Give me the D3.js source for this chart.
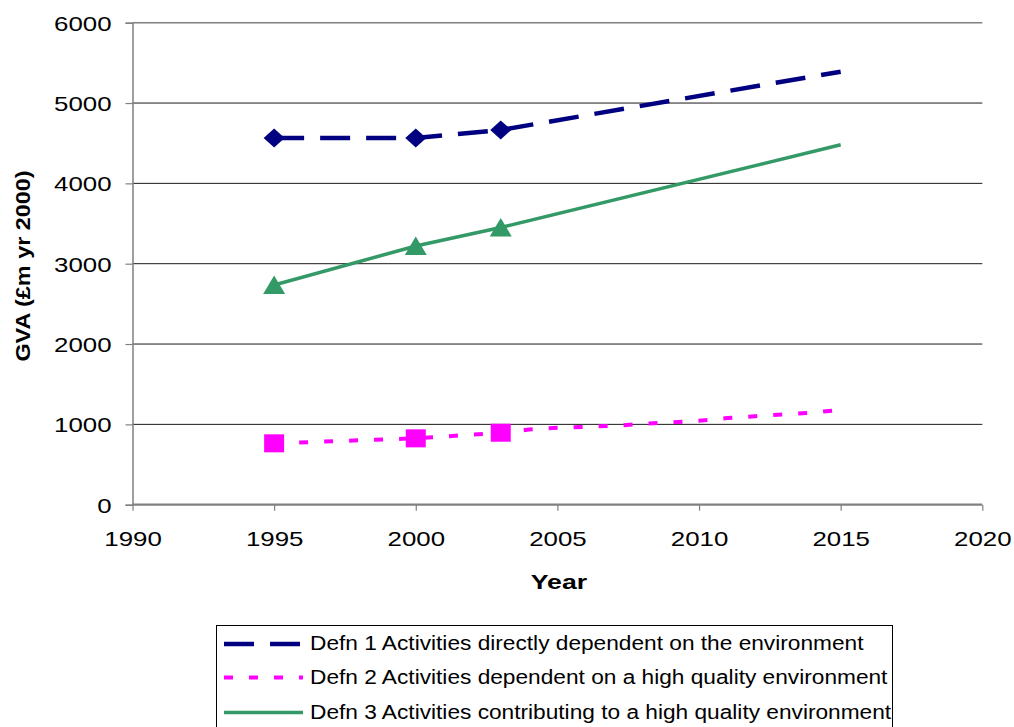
<!DOCTYPE html>
<html>
<head>
<meta charset="utf-8">
<script src="https://cdn.jsdelivr.net/npm/d3@7"></script>
<style>
  html, body { margin: 0; padding: 0; background: #fff; }
  svg { display: block; }
  text { font-family: "Liberation Sans", Arial, sans-serif; fill: #000; }
</style>
</head>
<body>
<svg id="chart" width="1014" height="727"></svg>
<script>
// GVA estimates (£m, year-2000 prices) for three definitions of environment-related activity
const observedYears = [1995, 2000, 2003];

const defn1Years = [1995, 2000, 2003, 2015];
const defn1Values = [4565, 4565, 4665, 5390];

const defn2Years = [1995, 2000, 2003, 2004, 2005, 2006, 2007, 2008, 2009, 2010, 2011, 2012, 2013, 2014, 2015];
const defn2Values = [764, 826, 896, 935, 958, 970, 982, 1005, 1025, 1046, 1078, 1102, 1124, 1146, 1180];

const defn3Years = [1995, 2000, 2003, 2015];
const defn3Values = [2735, 3220, 3450, 4480];

const xTicks = [1990, 1995, 2000, 2005, 2010, 2015, 2020];
const yTicks = [0, 1000, 2000, 3000, 4000, 5000, 6000];

const seriesNames = [
  "Defn 1 Activities directly dependent on the environment",
  "Defn 2 Activities dependent on a high quality environment",
  "Defn 3 Activities contributing to a high quality environment"
];

const svg = d3.select("#chart");
const x = d3.scaleLinear().domain([1990, 2020]).range([132.5, 982.3]);
const y = d3.scaleLinear().domain([0, 6000]).range([504.7, 22.7]);

// widen glyphs horizontally by a factor
function widen(sel, f) {
  sel.each(function () {
    const w = this.getComputedTextLength();
    this.setAttribute("textLength", w * f);
    this.setAttribute("lengthAdjust", "spacingAndGlyphs");
  });
}

// horizontal gridlines
svg.append("g")
  .selectAll("line")
  .data(yTicks.filter(d => d > 0))
  .join("line")
  .attr("x1", x(1990)).attr("x2", x(2020))
  .attr("y1", d => y(d)).attr("y2", d => y(d))
  .attr("stroke", d => d === 6000 ? "#808080" : "#1a1a1a")
  .attr("stroke-width", d => d === 6000 ? 1.4 : 1);

// y axis
const yAxis = svg.append("g")
  .attr("transform", `translate(${x(1990)},0)`)
  .call(d3.axisLeft(y).tickValues(yTicks).tickSize(7).tickPadding(14).tickFormat(d3.format("d")));
yAxis.select(".domain").attr("stroke", "#808080").attr("stroke-width", 1.5);
yAxis.selectAll(".tick line").attr("stroke", "#808080").attr("stroke-width", 1.2);
yAxis.selectAll(".tick text")
  .attr("font-size", 21).attr("dy", "0.36em")
  .style("font-family", "'Liberation Sans', Arial, sans-serif").attr("fill", "#111");

// x axis
const xAxis = svg.append("g")
  .attr("transform", `translate(0,${y(0)})`)
  .call(d3.axisBottom(x).tickValues(xTicks).tickSize(6).tickPadding(0).tickFormat(d3.format("d")));
xAxis.select(".domain").attr("stroke", "#808080").attr("stroke-width", 2.2);
xAxis.selectAll(".tick line").attr("stroke", "#808080").attr("stroke-width", 1.2);
xAxis.selectAll(".tick text")
  .attr("font-size", 21).attr("dy", null).attr("y", 41)
  .style("font-family", "'Liberation Sans', Arial, sans-serif").attr("fill", "#111");
xAxis.selectAll(".domain").attr("d", `M${x(1990)},0H${x(2020)}`);

widen(yAxis.selectAll(".tick text"), 1.23);
widen(xAxis.selectAll(".tick text"), 1.23);

// axis titles
const xTitle = svg.append("text")
  .attr("x", 559).attr("y", 589)
  .attr("text-anchor", "middle")
  .attr("font-size", 21).attr("font-weight", "bold")
  .text("Year");
widen(xTitle, 1.27);

const yTitle = svg.append("text")
  .attr("transform", "translate(30,266) rotate(-90)")
  .attr("text-anchor", "middle")
  .attr("font-size", 20).attr("font-weight", "bold")
  .text("GVA (£m yr 2000)");
widen(yTitle, 1.17);

// series lines
const line = d3.line().x(d => x(d[0])).y(d => y(d[1]));
const zip = (a, b) => a.map((v, i) => [v, b[i]]);

const colors = { d1: "#000080", d2: "#FF00FF", d3: "#339966" };

svg.append("path")
  .datum(zip(defn1Years, defn1Values))
  .attr("d", line)
  .attr("fill", "none").attr("stroke", colors.d1)
  .attr("stroke-width", 4.5).attr("stroke-dasharray", "30,16");

svg.append("path")
  .datum(zip(defn2Years, defn2Values))
  .attr("d", line)
  .attr("fill", "none").attr("stroke", colors.d2)
  .attr("stroke-width", 4).attr("stroke-dasharray", "9,16");

svg.append("path")
  .datum(zip(defn3Years, defn3Values))
  .attr("d", line)
  .attr("fill", "none").attr("stroke", colors.d3)
  .attr("stroke-width", 3.5);

// markers at observed years
const obs1 = zip(defn1Years, defn1Values).filter(d => observedYears.includes(d[0]));
const obs2 = zip(defn2Years, defn2Values).filter(d => observedYears.includes(d[0]));
const obs3 = zip(defn3Years, defn3Values).filter(d => observedYears.includes(d[0]));

svg.append("g").selectAll("path")
  .data(obs1).join("path")
  .attr("transform", d => `translate(${x(d[0])},${y(d[1])})`)
  .attr("d", "M-10.5,0L0,-9.5L10.5,0L0,9.5Z")
  .attr("fill", colors.d1);

svg.append("g").selectAll("rect")
  .data(obs2).join("rect")
  .attr("x", d => x(d[0]) - 10).attr("y", d => y(d[1]) - 9)
  .attr("width", 20).attr("height", 18)
  .attr("fill", colors.d2);

svg.append("g").selectAll("path")
  .data(obs3).join("path")
  .attr("transform", d => `translate(${x(d[0])},${y(d[1])})`)
  .attr("d", "M0,-9.5L11,9L-11,9Z")
  .attr("fill", colors.d3);

// legend
const legend = svg.append("g");
legend.append("rect")
  .attr("x", 216.5).attr("y", 625.5)
  .attr("width", 676).attr("height", 120)
  .attr("fill", "#fff").attr("stroke", "#000").attr("stroke-width", 1);

const legendRows = [
  { name: seriesNames[0], color: colors.d1, width: 4.5, dash: "30,16", cy: 644 },
  { name: seriesNames[1], color: colors.d2, width: 4, dash: "9,16", cy: 677.5 },
  { name: seriesNames[2], color: colors.d3, width: 3.5, dash: null, cy: 712.5 }
];

legendRows.forEach(r => {
  legend.append("line")
    .attr("x1", 224).attr("x2", 303)
    .attr("y1", r.cy).attr("y2", r.cy)
    .attr("stroke", r.color).attr("stroke-width", r.width)
    .attr("stroke-dasharray", r.dash);
  const t = legend.append("text")
    .attr("x", 310).attr("y", r.cy + 6)
    .attr("font-size", 19.5)
    .text(r.name);
  widen(t, 1.163);
});
</script>
</body>
</html>
